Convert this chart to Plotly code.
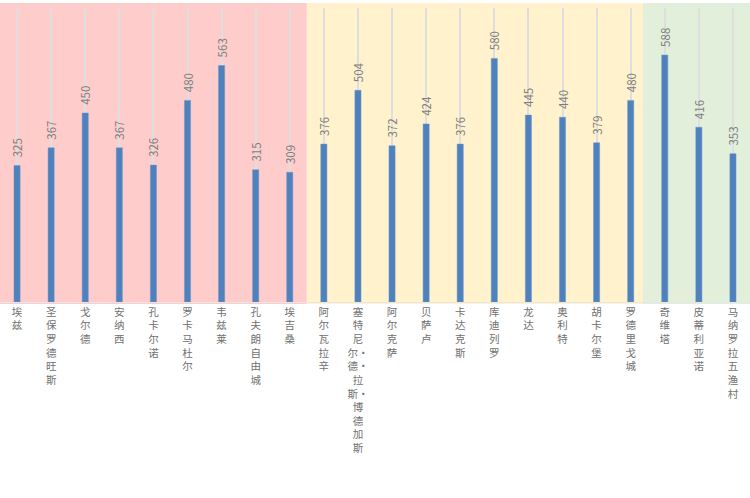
import plotly.graph_objects as go

cities = ["埃兹", "圣保罗德旺斯", "戈尔德", "安纳西", "孔卡尔诺", "罗卡马杜尔", "韦兹莱",
          "孔夫朗自由城", "埃吉桑", "阿尔瓦拉辛", "塞特尼尔·德·拉斯·博德加斯", "阿尔克萨",
          "贝萨卢", "卡达克斯", "库迪列罗", "龙达", "奥利特", "胡卡尔堡", "罗德里戈城",
          "奇维塔", "皮蒂利亚诺", "马纳罗拉 五渔村"]
values = [325, 367, 450, 367, 326, 480, 563, 315, 309, 376, 504, 372,
          424, 376, 580, 445, 440, 379, 480, 588, 416, 353]

# country groups (background bands): France, Spain, Italy
group_colors = ["#FFCCCC", "#FFF2CC", "#E2EFDA"]


def vertical(s):
    lines = []
    for ch in s:
        if ch == " ":
            continue
        if ch == "·" and lines:
            lines[-1] += ch
        else:
            lines.append(ch)
    return "<br>".join(lines)


xs = list(range(len(cities)))
ticktext = [vertical(c) for c in cities]

fig = go.Figure()
fig.add_trace(go.Bar(
    x=xs, y=values, width=0.18,
    marker=dict(color="#4F81BD", line=dict(color="#6A96CC", width=0.5)),
    text=values, texttemplate="\u00a0\u00a0%{y}", textposition="outside",
    textangle=-90, cliponaxis=False, constraintext="none",
    textfont=dict(family="Noto Sans CJK SC", size=11.5, color="#7F7F7F"),
))

# background bands
bounds = [-0.5, 8.5, 18.36, 21.5]
for i, col in enumerate(group_colors):
    fig.add_shape(type="rect", xref="x", yref="paper",
                  x0=bounds[i], x1=bounds[i + 1], y0=-0.007, y1=1.017,
                  fillcolor=col, line=dict(width=0), layer="below")

fig.update_layout(
    width=750, height=498,
    margin=dict(l=0, r=0, t=8, b=196, autoexpand=False),
    paper_bgcolor="white", plot_bgcolor="rgba(0,0,0,0)",
    showlegend=False,
    xaxis=dict(
        tickmode="array", tickvals=xs, ticktext=ticktext, tickangle=0,
        range=[-0.5, 21.5], tickson="boundaries", showgrid=True,
        gridcolor="#DEDEDE", gridwidth=1.5, ticks="", zeroline=False,
        tickfont=dict(family="Noto Sans CJK SC", size=10.5, color="#707070"),
        showline=True, linecolor="#E6E6E6", linewidth=1,
        automargin=False,
    ),
    yaxis=dict(range=[0, 700], showgrid=False, showticklabels=False,
               zeroline=False, automargin=False),
    font=dict(family="Noto Sans CJK SC"),
)

fig.write_html("out.html", config={"displayModeBar": False},
               post_script="document.body.style.margin='0';document.body.style.overflow='hidden';")
